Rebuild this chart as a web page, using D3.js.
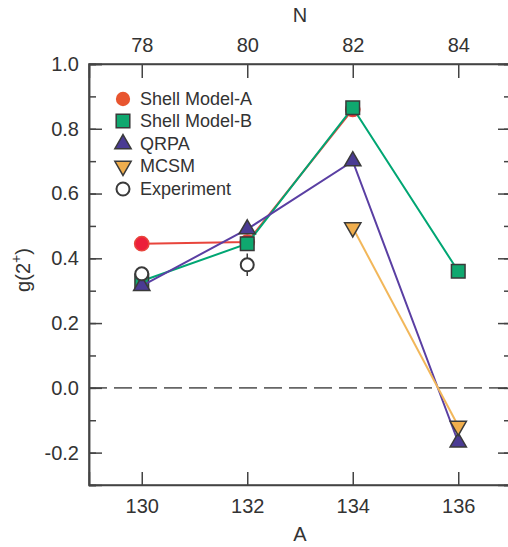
<!DOCTYPE html>
<html><head><meta charset="utf-8">
<script src="https://cdn.jsdelivr.net/npm/d3@7"></script>
<style>body{margin:0;background:#fff}svg{display:block;font-family:"Liberation Sans",Arial,sans-serif}</style>
</head><body><svg id="c" width="508" height="547"></svg>
<script>
// ---- data ----
const massNumbers = [130, 132, 134, 136];
const neutronLabels = ["78", "80", "82", "84"];
const yTicksMajor = [-0.2, 0, 0.2, 0.4, 0.6, 0.8, 1.0];
const shellModelA = [{A:130, g:0.445}, {A:132, g:0.45}, {A:134, g:0.86}];
const shellModelB = [{A:130, g:0.33}, {A:132, g:0.445}, {A:134, g:0.865}, {A:136, g:0.36}];
const qrpa = [{A:130, g:0.315}, {A:132, g:0.49}, {A:134, g:0.70}, {A:136, g:-0.168}];
const mcsm = [{A:134, g:0.495}, {A:136, g:-0.118}];
const experiment = [{A:130, g:0.352, err:0.02}, {A:132, g:0.38, err:0.035}];
const legendLabels = ["Shell Model-A", "Shell Model-B", "QRPA", "MCSM", "Experiment"];

const svg = d3.select("#c");
const L = 89, R = 511, T = 64, B = 485;
const x = d3.scaleLinear().domain([129, 137]).range([L, R]);
const y = d3.scaleLinear().domain([-0.3, 1.0]).range([B, T]);
const axisCol = "#444";
const fmt = d => d3.format(".1f")(d).replace("\u2212", "-");
const minorTicks = d3.range(-3, 11).map(i => i / 10);

function styleAxis(g) {
  g.selectAll("path,line").attr("stroke", axisCol).attr("stroke-width", 1.5);
  g.selectAll("text").attr("fill", "#333").style("font-size", "20px").style("font-family", '"Liberation Sans",Arial,sans-serif');
}

// frame
svg.append("rect").attr("x", L).attr("y", T).attr("width", R - L).attr("height", B - T)
  .attr("fill", "none").attr("stroke", axisCol).attr("stroke-width", 1.5);

// zero dashed line
svg.append("line").attr("x1", L).attr("x2", R).attr("y1", y(0)).attr("y2", y(0))
  .attr("stroke", "#666").attr("stroke-width", 1.6).attr("stroke-dasharray", "18,7");

// bottom axis
svg.append("g").attr("transform", `translate(0,${B})`)
  .call(d3.axisBottom(x).tickValues(massNumbers).tickSize(-13).tickPadding(14).tickFormat(d3.format("d")))
  .call(styleAxis);
// top axis
svg.append("g").attr("transform", `translate(0,${T})`)
  .call(d3.axisTop(x).tickValues(massNumbers).tickSize(-14).tickPadding(12).tickFormat((d, i) => neutronLabels[i]))
  .call(styleAxis);
// left axis minor + major
svg.append("g").attr("transform", `translate(${L},0)`)
  .call(d3.axisLeft(y).tickValues(minorTicks).tickSize(-7).tickFormat(""))
  .call(styleAxis);
svg.append("g").attr("transform", `translate(${L},0)`)
  .call(d3.axisLeft(y).tickValues(yTicksMajor).tickSize(-13).tickPadding(10).tickFormat(fmt))
  .call(styleAxis);
// right axis
svg.append("g").attr("transform", `translate(${R},0)`)
  .call(d3.axisRight(y).tickValues(minorTicks).tickSize(-7).tickFormat(""))
  .call(styleAxis);
svg.append("g").attr("transform", `translate(${R},0)`)
  .call(d3.axisRight(y).tickValues(yTicksMajor).tickSize(-13).tickFormat(""))
  .call(styleAxis);

// axis titles
svg.append("text").attr("x", x(133)).attr("y", 541).attr("text-anchor", "middle")
  .style("font-size", "20px").attr("fill", "#333").text("A");
svg.append("text").attr("x", x(133)).attr("y", 22).attr("text-anchor", "middle")
  .style("font-size", "20px").attr("fill", "#333").text("N");
const yt = svg.append("text").attr("transform", `translate(30,270) rotate(-90)`)
  .attr("text-anchor", "middle").style("font-size", "20px").attr("fill", "#333");
yt.append("tspan").text("g(2");
yt.append("tspan").attr("dy", -9).style("font-size", "14px").text("+");
yt.append("tspan").attr("dy", 9).text(")");

const line = d3.line().x(d => x(d.A)).y(d => y(d.g));
const stroke = "#3a3a3a";
const sym = (type, size) => d3.symbol().type(type).size(size)();
const triDown = { draw(ctx, size) { const s = Math.sqrt(size / (Math.sqrt(3) / 4)); const h = s * Math.sqrt(3) / 2;
  ctx.moveTo(-s / 2, -h / 3); ctx.lineTo(s / 2, -h / 3); ctx.lineTo(0, 2 * h / 3); ctx.closePath(); } };

const series = [
  { data: shellModelA, line: "#e8453c", fill: "#ec1f3a", legendFill: "#e8552f", shape: d3.symbolCircle, size: 160, edge: "#e8453c" },
  { data: shellModelB, line: "#00a673", fill: "#0fa86f", legendFill: "#0fa86f", shape: d3.symbolSquare, size: 185, edge: stroke },
  { data: qrpa, line: "#5a3fa3", fill: "#4a3b93", legendFill: "#4a3b93", shape: d3.symbolTriangle, size: 115, edge: stroke },
  { data: mcsm, line: "#f2b75a", fill: "#f0ae4d", legendFill: "#f0ae4d", shape: triDown, size: 115, edge: stroke }
];

series.forEach(s => {
  svg.append("path").attr("d", line(s.data)).attr("fill", "none").attr("stroke", s.line).attr("stroke-width", 2);
  svg.selectAll(null).data(s.data).enter().append("path")
    .attr("transform", d => `translate(${x(d.A)},${y(d.g)})`)
    .attr("d", sym(s.shape, s.size)).attr("fill", s.fill).attr("stroke", s.edge).attr("stroke-width", 1.5);
});

// experiment
const ex = svg.selectAll(null).data(experiment).enter().append("g");
ex.append("line").attr("x1", d => x(d.A)).attr("x2", d => x(d.A))
  .attr("y1", d => y(d.g + d.err)).attr("y2", d => y(d.g - d.err)).attr("stroke", stroke).attr("stroke-width", 1.5);
ex.append("circle").attr("cx", d => x(d.A)).attr("cy", d => y(d.g)).attr("r", 6.5)
  .attr("fill", "#fff").attr("stroke", stroke).attr("stroke-width", 2);

// legend
const legY = [99, 121, 144, 166, 189];
const lg = svg.append("g");
legendLabels.forEach((lab, i) => {
  const cx = 123, cy = legY[i];
  if (i < 4) {
    const s = series[i];
    lg.append("path").attr("transform", `translate(${cx},${cy})`).attr("d", sym(s.shape, s.size))
      .attr("fill", s.legendFill).attr("stroke", i === 0 ? "none" : stroke).attr("stroke-width", 1.5);
  } else {
    lg.append("circle").attr("cx", cx).attr("cy", cy).attr("r", 6.5).attr("fill", "#fff").attr("stroke", stroke).attr("stroke-width", 2);
  }
  lg.append("text").attr("x", 140).attr("y", cy).attr("dy", "0.35em").style("font-size", "18px").attr("fill", "#333").text(lab);
});
</script></body></html>
